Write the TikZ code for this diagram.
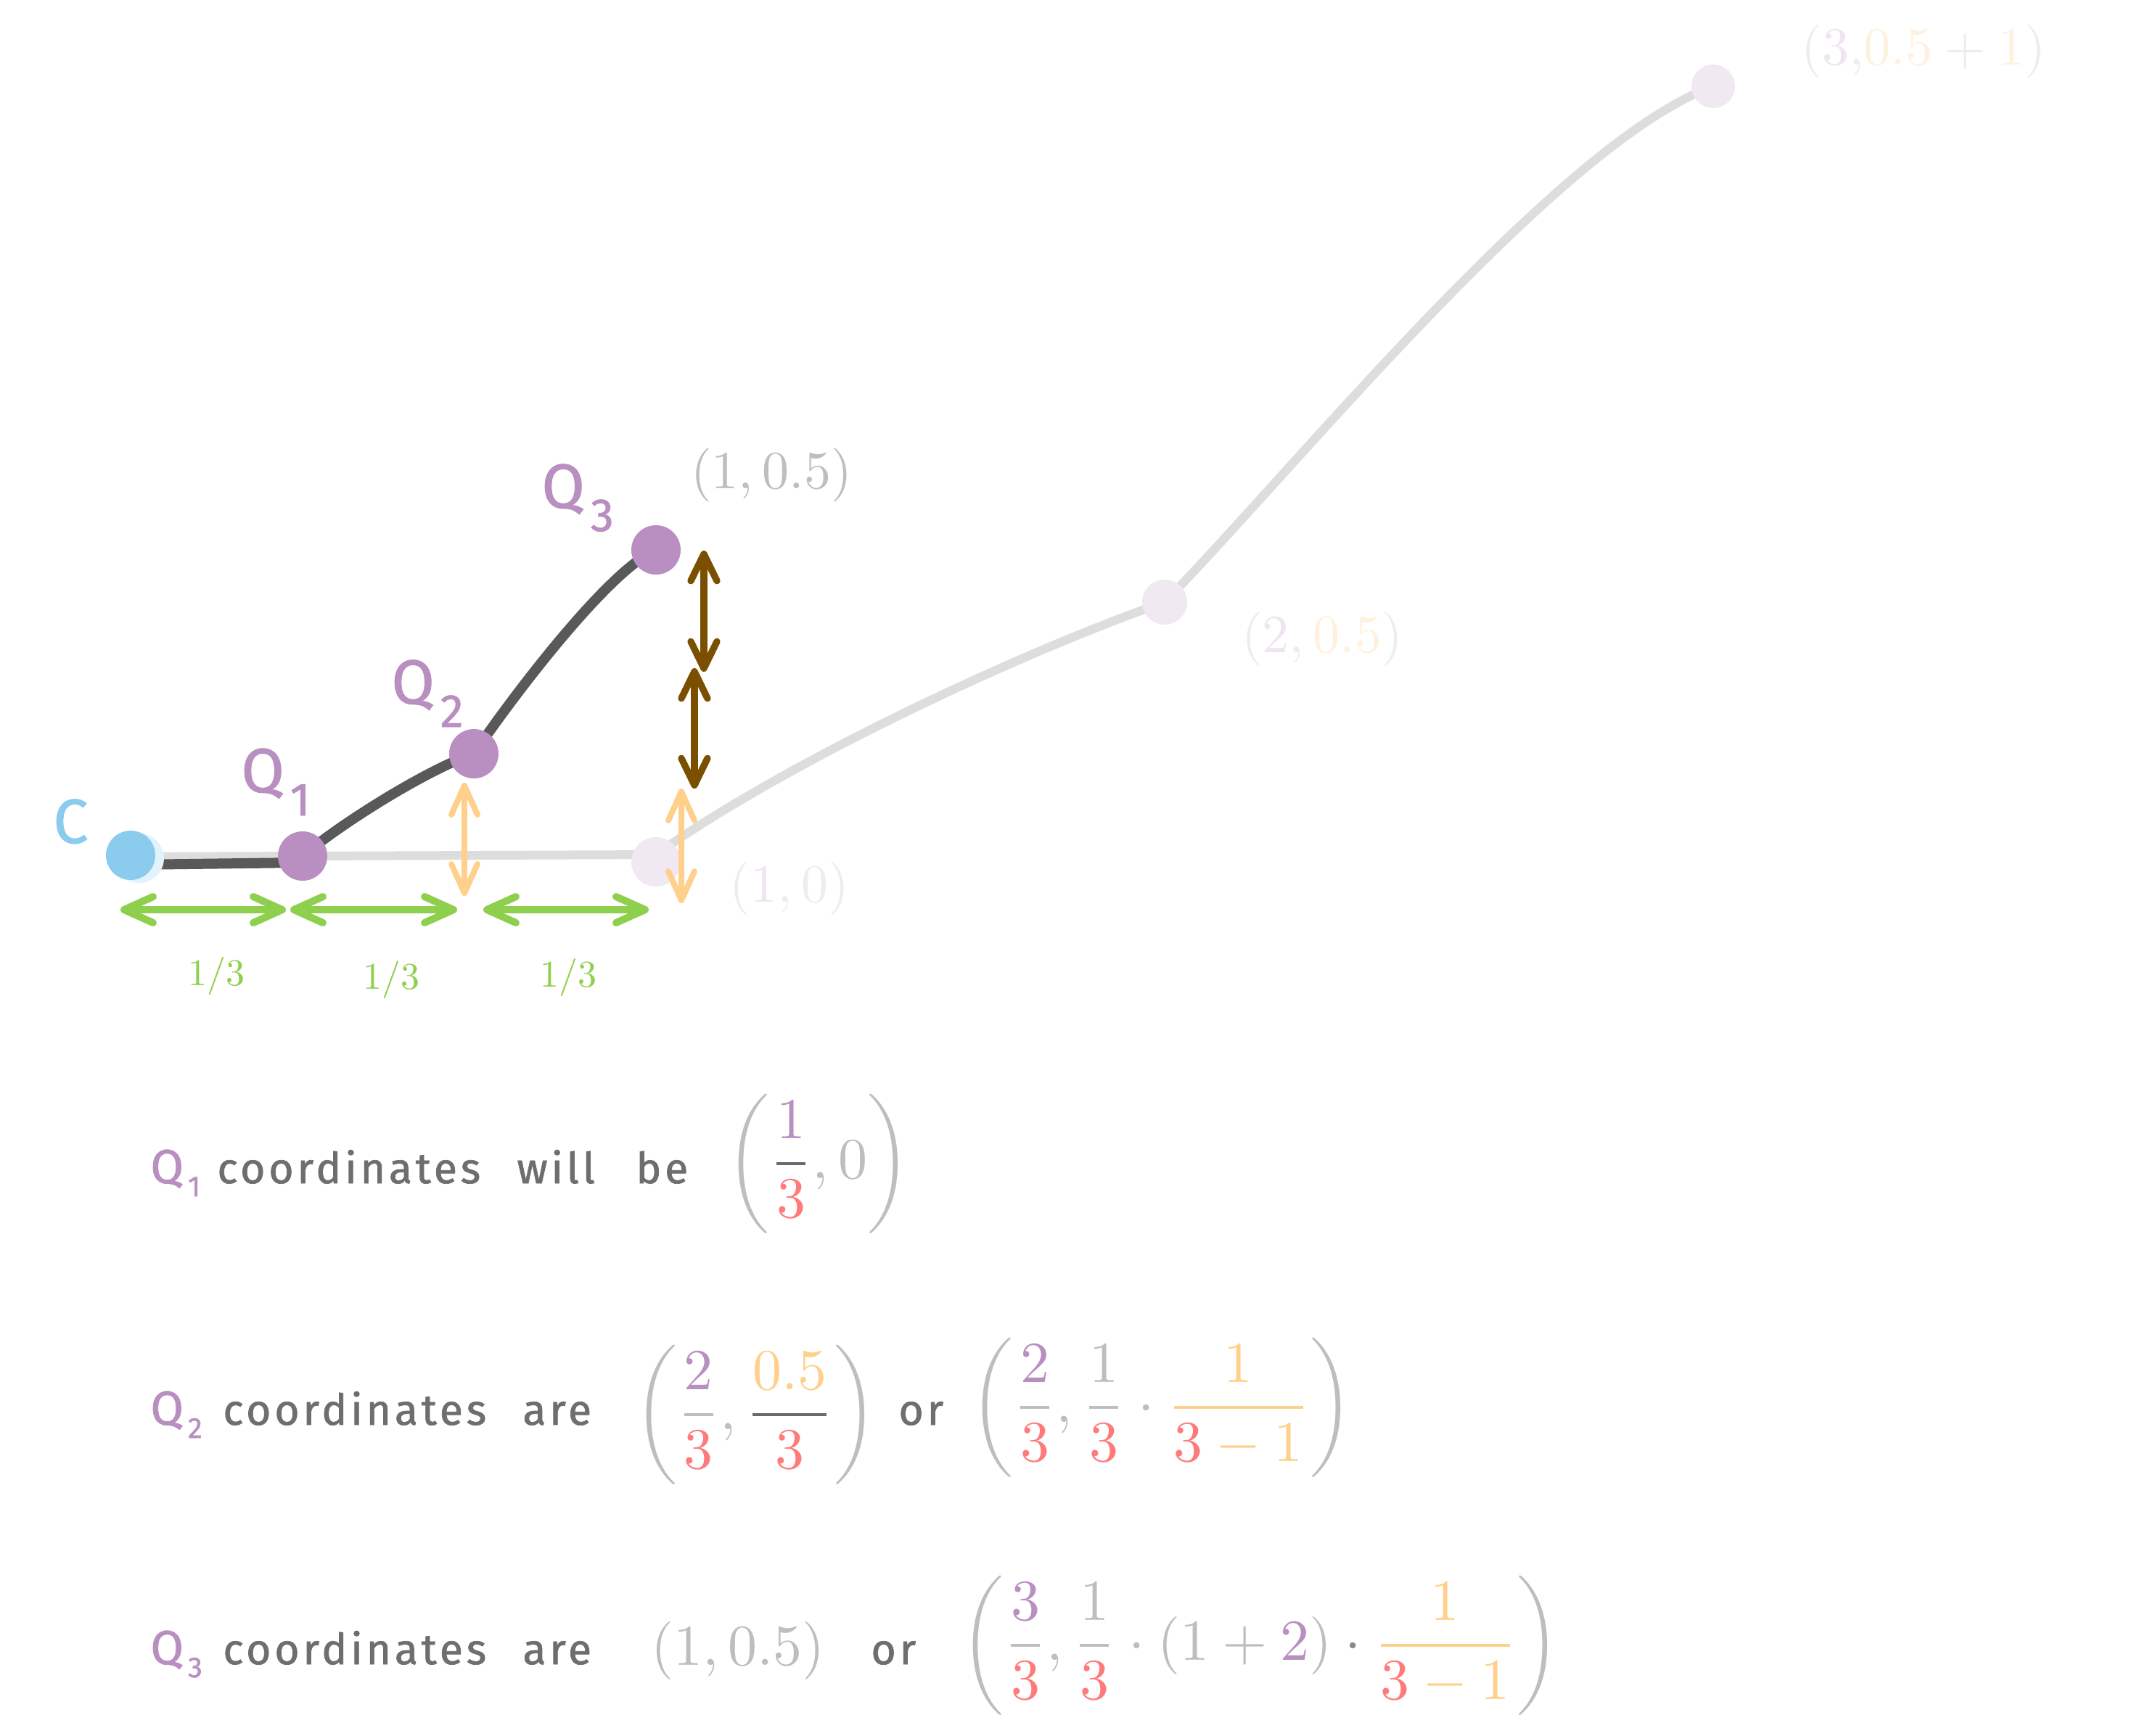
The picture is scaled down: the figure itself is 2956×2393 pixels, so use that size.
\documentclass[tikz,border=0pt]{standalone}
\usepackage{amsmath}
\usepackage{fontspec}
\usetikzlibrary{arrows.meta}
\newfontfamily\hand{Fira Sans}[LetterSpace=8, FakeBold=1.2]
\newcommand\fsz[1]{\fontsize{#1}{#1}\selectfont}
\newcommand\mbx[2]{\scalebox{#1}{\fontsize{10}{12}\selectfont #2}}
\definecolor{cP}{HTML}{B98FC1}
\definecolor{cR}{HTML}{FF7B7B}
\definecolor{cO}{HTML}{FFD08B}
\definecolor{cG}{HTML}{BEBEBE}
\definecolor{cD}{HTML}{6A6A6A}
\definecolor{cT}{HTML}{6E6E6E}
\definecolor{cB}{HTML}{8BCBEE}
\definecolor{cBl}{HTML}{E3F3FC}
\definecolor{cGr}{HTML}{8FCF4E}
\definecolor{cBr}{HTML}{7A5000}
\definecolor{cLine}{HTML}{DDDDDD}
\definecolor{cDark}{HTML}{595959}
\definecolor{cFaint}{HTML}{F0E9F2}
\definecolor{fG}{HTML}{EDEDED}
\definecolor{fP}{HTML}{EEE5F0}
\definecolor{fO}{HTML}{FFF1DE}
\definecolor{cDot}{HTML}{8A8A8A}
\pgfdeclarelayer{bg}
\pgfdeclarelayer{paper}
\pgfsetlayers{paper,bg,main}
\tikzset{
  dot/.style={circle, inner sep=0pt, minimum size=34pt},
  grayline/.style={draw=cLine, line width=6pt, line cap=round, line join=round},
  darkline/.style={draw=cDark, line width=7pt, line cap=round, line join=round},
  garrow/.style={draw=cGr, line width=5pt, line cap=round,
    {Straight Barb[length=20pt,width=18pt,line cap=round,line join=round]}-{Straight Barb[length=20pt,width=18pt,line cap=round,line join=round]}},
  oarrow/.style={draw=cO, line width=4pt, line cap=round,
    {Straight Barb[length=20pt,width=18pt,line cap=round,line join=round]}-{Straight Barb[length=20pt,width=18pt,line cap=round,line join=round]}},
  barrow/.style={draw=cBr, line width=4.7pt, line cap=round,
    {Straight Barb[length=18.5pt,width=18pt,line cap=round,line join=round]}-{Straight Barb[length=18.5pt,width=18pt,line cap=round,line join=round]}},
  qlab/.style={anchor=base west, inner sep=0pt, text=cP, font=\hand\fsz{43}},
  qsmall/.style={anchor=base west, inner sep=0pt, text=cP, font=\hand\fsz{33}},
  words/.style={anchor=base west, inner sep=0pt, text=cT, font=\hand\fsz{29.5}},
  third/.style={inner sep=0pt, text=cGr},
  mbig/.style={inner sep=0pt, text=cG},
  mlab/.style={inner sep=0pt, text=cG},
}
\begin{document}
\begin{tikzpicture}[x=0.5pt,y=-0.5pt]
\begin{pgfonlayer}{paper}
\fill[white] (0,0) rectangle (2956,2393);
\end{pgfonlayer}
\useasboundingbox (0,0) rectangle (2956,2393);

% dots
\node[dot, fill=cBl] (chalo) at (192,1183) {};
\node[dot, fill=cB] (c) at (180,1179) {};
\node[dot, fill=cFaint] (p10) at (904,1188) {};
\node[dot, fill=cFaint, minimum size=31pt] (p21) at (1605,830) {};
\node[dot, fill=cFaint, minimum size=30pt] (p31) at (2361,119) {};
\node[dot, fill=cP] (q1) at (417,1180) {};
\node[dot, fill=cP] (q2) at (653,1039) {};
\node[dot, fill=cP] (q3) at (904,758) {};

\coordinate (c0) at (180,1181);
\coordinate (p10a) at (904,1178);
\coordinate (c1) at (180,1192);
\coordinate (q1b) at (417,1189);

\begin{pgfonlayer}{bg}
\draw[grayline] (c0) -- (p10a)
   .. controls (1084,1050) and (1405,900) .. (p21.center)
   .. controls (1790,640) and (2150,195) .. (p31.center);
\draw[darkline] (c1) -- (q1b);
\draw[darkline] (q1.center) .. controls (470,1135) and (590,1060) .. (q2.center)
   .. controls (710,955) and (840,785) .. (q3.center);
\end{pgfonlayer}

% green arrows
\coordinate (g1a) at (166,1254); \coordinate (g1b) at (394,1254);
\coordinate (g2a) at (400,1254); \coordinate (g2b) at (630,1254);
\coordinate (g3a) at (666,1254); \coordinate (g3b) at (894,1254);
\draw[garrow] (g1a) -- (g1b);
\draw[garrow] (g2a) -- (g2b);
\draw[garrow] (g3a) -- (g3b);
\node[third] (t1) at (298,1345) {\mbx{2.6}{$1/3$}};
\node[third] (t2) at (539,1350) {\mbx{2.6}{$1/3$}};
\node[third] (t3) at (783,1347) {\mbx{2.6}{$1/3$}};

% orange arrows
\coordinate (o1a) at (640,1079); \coordinate (o1b) at (640,1235);
\coordinate (o2a) at (939,1087); \coordinate (o2b) at (939,1245);
\draw[oarrow] (o1a) -- (o1b);
\draw[oarrow] (o2a) -- (o2b);

% brown arrows
\coordinate (b1a) at (970,759); \coordinate (b1b) at (970,926);
\coordinate (b2a) at (957,921); \coordinate (b2b) at (957,1087);
\draw[barrow] (b1a) -- (b1b);
\draw[barrow] (b2a) -- (b2b);

% point labels
\node[qlab, text=cB] (lc) at (73,1162) {C};
\node[qlab] (lq1) at (332,1092) {Q\kern4pt\raisebox{-16pt}{\fsz{32}1}};
\node[qlab] (lq2) at (539,970) {Q\kern4pt\raisebox{-16pt}{\fsz{32}2}};
\node[qlab] (lq3) at (746,700) {Q\kern4pt\raisebox{-16pt}{\fsz{32}3}};

\node[mlab] (l05) at (1063,655) {\mbx{3.7}{$(1, 0.5)$}};
\node[mlab, text=fG] (l10) at (1088,1225) {\mbx{3.7}{$({\color{fP}1}, 0)$}};
\node[mlab, text=fG] (l205) at (1822,881) {\mbx{3.7}{$({\color{fP}2}, {\color{fO}0.5})$}};
\node[mlab, text=fG] (l315) at (2651,71) {\mbx{3.7}{$({\color{fP}3}{,}{\color{fO}0.5} + {\color{fO}1})$}};

% line 1
\node[qsmall] (s1q) at (207,1631) {Q\kern3pt\raisebox{-9pt}{\fsz{20}1}};
\node[words] (s1a) at (299,1631) {coordinates};
\node[words] (s1b) at (712,1631) {will};
\node[words] (s1c) at (876,1631) {be};
\node[mbig] (m1) at (1128,1604) {\mbx{4}{$\left({\color{cD}\dfrac{\color{cP}1}{\color{cR}3}}, 0\right)$}};

% line 2
\node[qsmall] (s2q) at (207,1964) {Q\kern3pt\raisebox{-9pt}{\fsz{20}2}};
\node[words] (s2a) at (307,1964) {coordinates};
\node[words] (s2b) at (720,1964) {are};
\node[mbig] (m2a) at (1041,1950) {\mbx{4}{$\left(\dfrac{\color{cP}2}{\color{cR}3}, {\color{cD}\dfrac{\color{cO}0.5}{\color{cR}3}}\right)$}};
\node[words] (s2c) at (1238,1964) {or};
\node[mbig] (m2b) at (1601,1940) {\mbx{4}{$\left(\dfrac{\color{cP}2}{\color{cR}3}, \dfrac{1}{\color{cR}3}\cdot{\color{cO}\dfrac{1}{{\color{cR}3}-1}}\right)$}};

% line 3
\node[qsmall] (s3q) at (207,2294) {Q\kern3pt\raisebox{-9pt}{\fsz{20}3}};
\node[words] (s3a) at (307,2294) {coordinates};
\node[words] (s3b) at (720,2294) {are};
\node[mbig] (m3a) at (1017,2275) {\mbx{4}{$(1, 0.5)$}};
\node[words] (s3c) at (1200,2294) {or};
\node[mbig] (m3b) at (1737,2268) {\mbx{4}{$\left(\dfrac{\color{cP}3}{\color{cR}3}, \dfrac{1}{\color{cR}3}\cdot(1+{\color{cP}2})\mathbin{\color{cDot}\cdot}{\color{cO}\dfrac{1}{{\color{cR}3}-1}}\right)$}};
\end{tikzpicture}
\end{document}
